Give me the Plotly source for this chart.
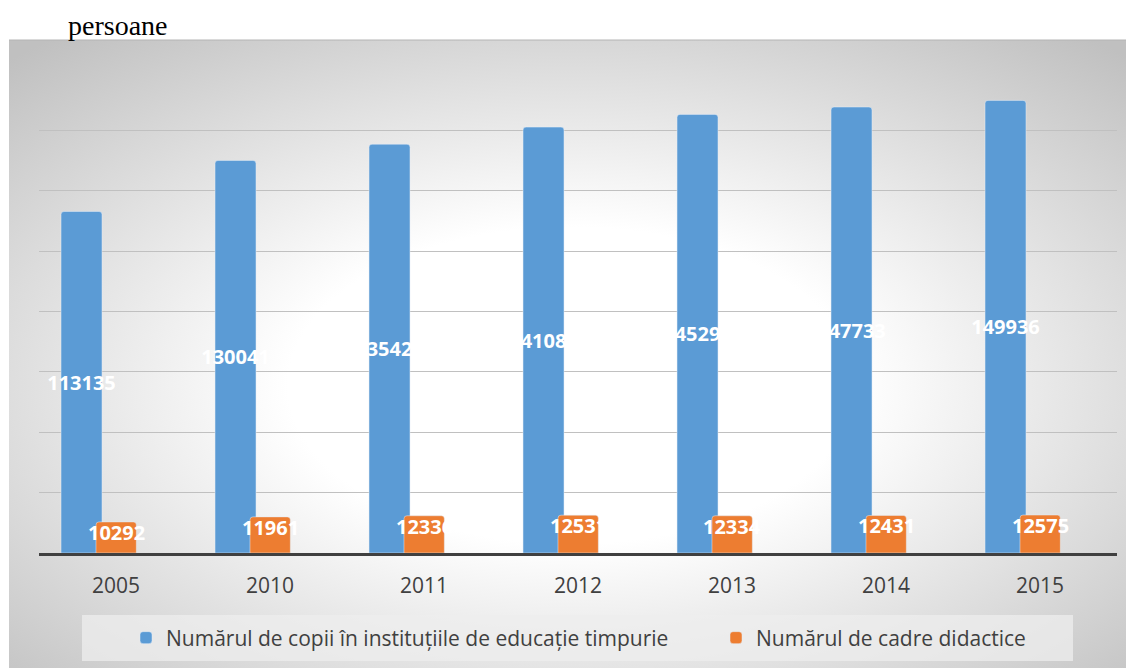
import base64
import plotly.graph_objects as go

years = ["2005", "2010", "2011", "2012", "2013", "2014", "2015"]
copii = [113135, 130041, 135421, 141082, 145295, 147733, 149936]
cadre = [10292, 11961, 12336, 12531, 12334, 12431, 12575]
name_copii = "Numărul de copii în instituțiile de educație timpurie"
name_cadre = "Numărul de cadre didactice"
unit_label = "persoane"

# page body has an 8px margin: figure pixel = reference pixel - 8
OFF = 8
W, H = 1134 - OFF, 668 - OFF
L = 39 - OFF
R = 1134 - 1117
T = 70 - OFF
B = 668 - 553
pw = W - L - R
ph = H - T - B

def px_x(x):  # reference px -> paper x
    return (x - OFF - L) / pw

def px_y(y):  # reference px -> paper y
    return (H - B - (y - OFF)) / ph

def cx(x):  # reference px -> container x
    return (x - OFF) / W

def cy(y):  # reference px -> container y
    return (H - (y - OFF)) / H

svg = (
    '<svg xmlns="http://www.w3.org/2000/svg" width="1125" height="628" '
    'viewBox="0 0 1125 628" preserveAspectRatio="none">'
    '<defs><radialGradient id="g" cx="0.5" cy="0.55" r="0.72">'
    '<stop offset="0" stop-color="#ffffff"/>'
    '<stop offset="0.35" stop-color="#ffffff"/>'
    '<stop offset="1" stop-color="#c0c0c0"/>'
    '</radialGradient></defs>'
    '<rect width="1125" height="628" fill="url(#g)"/></svg>'
)
src = "data:image/svg+xml;base64," + base64.b64encode(svg.encode()).decode()

label_font = dict(family="Open Sans", size=20, color="white", weight="bold")

fig = go.Figure()
fig.add_trace(go.Bar(
    x=years, y=copii, name=name_copii, legend="legend",
    marker=dict(color="#5B9BD5", cornerradius=3),
    width=0.266, offset=-0.357,
    text=[str(v) for v in copii], textposition="inside",
    insidetextanchor="middle", textangle=0, constraintext="none",
    textfont=label_font,
))
fig.add_trace(go.Bar(
    x=years, y=cadre, name=name_cadre, legend="legend2",
    marker=dict(color="#ED7D31", cornerradius=3),
    width=0.262, offset=-0.13,
))

annotations = [dict(
    text=unit_label, xref="paper", yref="paper",
    x=px_x(66), y=px_y(26), xanchor="left", yanchor="middle",
    showarrow=False,
    font=dict(family="Liberation Serif", size=28, color="black"),
)]
# orange value labels, anchored at the top of each bar (category index on the category axis)
for i, v in enumerate(cadre):
    annotations.append(dict(
        text=str(v), x=i, y=v, xref="x", yref="y",
        xanchor="center", yanchor="top", yshift=5, showarrow=False,
        font=label_font,
    ))

legend_common = dict(
    orientation="h", xref="container", yref="container",
    xanchor="left", y=cy(638), yanchor="middle",
    bgcolor="rgba(0,0,0,0)",
    font=dict(family="Open Sans", size=21, color="#404040"),
)

fig.update_layout(
    width=W, height=H,
    margin=dict(l=L, r=R, t=T, b=B, autoexpand=False),
    paper_bgcolor="white", plot_bgcolor="rgba(0,0,0,0)",
    barmode="overlay",
    showlegend=True,
    legend=dict(x=cx(126), **legend_common),
    legend2=dict(x=cx(716), **legend_common),
    xaxis=dict(
        type="category", categoryorder="array", categoryarray=years,
        range=[-0.5, len(years) - 0.5], autorange=False,
        showline=True, linewidth=3, linecolor="#404040",
        ticks="outside", ticklen=12, tickcolor="rgba(0,0,0,0)",
        tickfont=dict(family="Open Sans", size=21, color="#404040"),
        showgrid=False, zeroline=False,
    ),
    yaxis=dict(
        range=[0, 160000], dtick=20000, showticklabels=False,
        showgrid=True, gridcolor="#c0c0c0", gridwidth=1, zeroline=False,
    ),
    images=[dict(
        source=src, xref="paper", yref="paper",
        x=px_x(9), y=px_y(40), sizex=(1134 - 9) / pw, sizey=(668 - 40) / ph,
        xanchor="left", yanchor="top", sizing="stretch", layer="below",
    )],
    shapes=[
        dict(type="rect", xref="paper", yref="paper",
             x0=px_x(82), x1=px_x(1073), y0=px_y(661), y1=px_y(615),
             fillcolor="rgba(238,238,238,0.75)", line=dict(width=0), layer="below"),
        dict(type="line", xref="paper", yref="paper",
             x0=px_x(9), x1=px_x(1134), y0=px_y(40), y1=px_y(40),
             line=dict(color="#b4b4b4", width=1)),
    ],
    annotations=annotations,
)

fig.write_html("out.html")
